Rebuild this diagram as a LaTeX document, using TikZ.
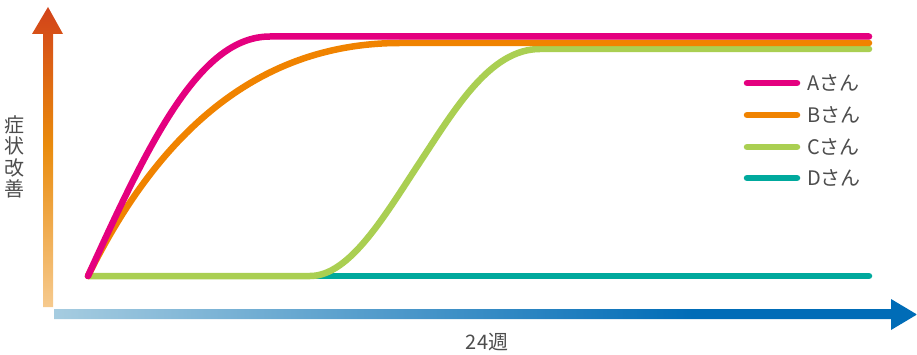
\documentclass[tikz,border=0pt]{standalone}
\usepackage{fontspec}
\setmainfont{Noto Sans CJK JP}
\usetikzlibrary{calc}
\definecolor{cA}{HTML}{E4007F}
\definecolor{cB}{HTML}{F08300}
\definecolor{cC}{HTML}{AACF52}
\definecolor{cD}{HTML}{00A99D}
\definecolor{txt}{HTML}{4D4D4D}
\definecolor{xlight}{HTML}{A6CCE0}
\definecolor{xdark}{HTML}{006CB7}
\definecolor{ylight}{HTML}{F6CA8E}
\definecolor{ymid}{HTML}{E98B0C}
\definecolor{ytop}{HTML}{D2431A}
\pgfdeclarehorizontalshading{xshade}{100bp}{color(0bp)=(xlight); color(25bp)=(xlight); color(62bp)=(xdark); color(100bp)=(xdark)}
\pgfdeclareverticalshading{yshade}{100bp}{color(0bp)=(ylight); color(25bp)=(ylight); color(52bp)=(ymid); color(75bp)=(ytop); color(100bp)=(ytop)}
\newcommand{\lw}{6.5pt}
\newcommand{\xend}{869}
\newcommand{\mkey}[4]{
  \coordinate (#4l) at (747,#1);
  \coordinate (#4r) at (797,#1);
  \draw [curve,#2] (#4l) -- (#4r);
  \node [keytext,anchor=west] at (807,#1) (#4) {#3};
}

\begin{document}
\begin{tikzpicture}[x=1pt,y=-1pt,
  curve/.style={line width=\lw,line cap=round},
  keytext/.style={text=txt,font=\fontsize{20}{0}\selectfont,inner sep=0pt},
  axtext/.style={text=txt,font=\fontsize{20}{21.5}\selectfont,inner sep=0pt,align=center}]
  \useasboundingbox (0,0) rectangle (917,355);

  % axes
  \shade [shading=yshade] (43,307) -- (43,34) -- (32,34) -- (48,7) -- (63,34)
    -- (53,34) -- (53,307) -- cycle;
  \shade [shading=xshade] (54,309) -- (891,309) -- (891,299) -- (917,314.5)
    -- (891,330) -- (891,319) -- (54,319) -- cycle;
  \node [axtext] at (15,157) (ylab) {症\\状\\改\\善};
  \node [axtext] at (487,342) (xlab) {24週};

  % curves
  \coordinate (o) at (88,276);
  \draw [curve,cD] (o) -- (\xend,276);
  \draw [curve,cC] (o) -- (310,276) .. controls (350,276) and (385,215) .. (420,162)
    .. controls (455,109) and (490,49) .. (540,49) -- (\xend,49);
  \draw [curve,cB] (o) .. controls (150,150) and (245,43) .. (400,43) -- (\xend,43);
  \draw [curve,cA] (o) .. controls (150,140) and (200,36.5) .. (270,36.5) -- (\xend,36.5);

  % legend
  \mkey{83}{cA}{Aさん}{ka}
  \mkey{115}{cB}{Bさん}{kb}
  \mkey{147}{cC}{Cさん}{kc}
  \mkey{178}{cD}{Dさん}{kd}
\end{tikzpicture}
\end{document}
